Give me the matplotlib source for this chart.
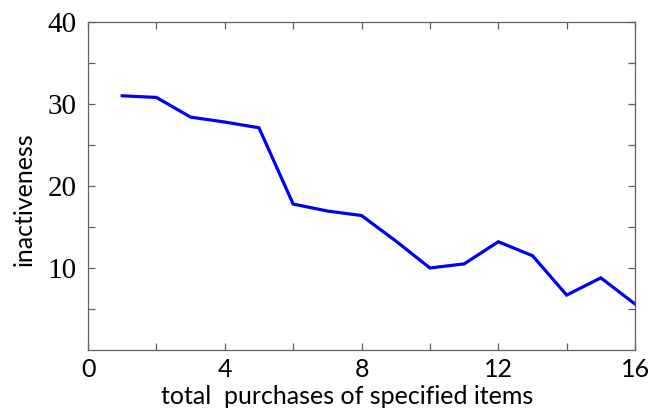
import matplotlib
matplotlib.use("Agg")
import matplotlib.pyplot as plt
from matplotlib.ticker import FixedLocator, NullFormatter

purchases = [1, 2, 3, 4, 5, 6, 7, 8, 9, 10, 11, 12, 13, 14, 15, 16]
inactiveness = [31.0, 30.8, 28.4, 27.8, 27.1, 17.8, 16.95, 16.4, 13.3, 10.0,
                10.5, 13.2, 11.5, 6.7, 8.8, 5.6]
x_major = [0, 4, 8, 12, 16]
x_minor = [2, 6, 10, 14]
y_major = [10, 20, 30, 40]
y_minor = [5, 15, 25, 35]

fig = plt.figure(figsize=(6.5, 4.12), dpi=100)
ax = fig.add_axes([0.1354, 0.1505, 0.977 - 0.1354, 0.9466 - 0.1505])
ax.plot(purchases, inactiveness, color="#0000ee", linewidth=2.3, solid_joinstyle="miter")
ax.set_xlim(0, 16)
ax.set_ylim(0, 40)

ax.xaxis.set_major_locator(FixedLocator(x_major))
ax.xaxis.set_minor_locator(FixedLocator(x_minor))
ax.yaxis.set_major_locator(FixedLocator(y_major))
ax.yaxis.set_minor_locator(FixedLocator(y_minor))
ax.xaxis.set_minor_formatter(NullFormatter())
ax.yaxis.set_minor_formatter(NullFormatter())

spine_col = "#606060"
for s in ax.spines.values():
    s.set_color(spine_col)
    s.set_linewidth(0.9)
ax.tick_params(which="both", direction="in", top=True, right=True, length=5,
               width=0.9, color=spine_col)
ax.tick_params(axis="x", which="major", pad=6)
ax.tick_params(axis="y", which="major", pad=8)
for lbl in ax.get_xticklabels():
    lbl.set_fontfamily("Lato")
    lbl.set_fontsize(18)
for lbl in ax.get_yticklabels():
    lbl.set_fontfamily("Liberation Serif")
    lbl.set_fontsize(21)

ax.set_xlabel("total  purchases of specified items", fontfamily="Lato", fontsize=18, labelpad=3)
ax.set_ylabel("inactiveness", fontfamily="Lato", fontsize=18, labelpad=9)
ax.xaxis.label.set_x(0.474)
ax.yaxis.label.set_y(0.46)

fig.savefig("out.png", dpi=100)
